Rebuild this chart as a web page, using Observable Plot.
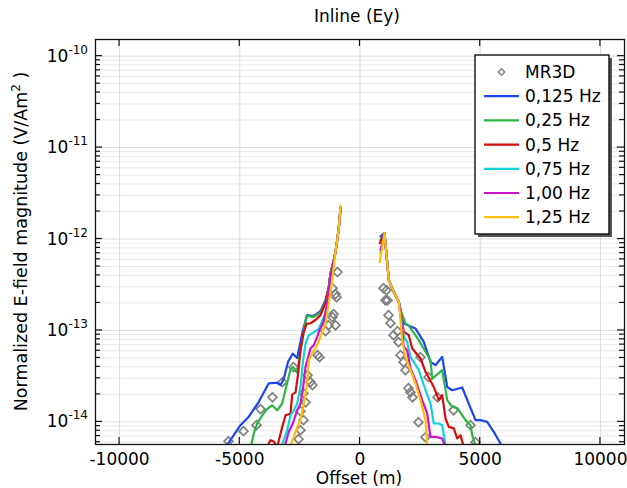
<!DOCTYPE html>
<html><head><meta charset="utf-8">
<script src="https://cdn.jsdelivr.net/npm/d3@7"></script>
<script src="https://cdn.jsdelivr.net/npm/@observablehq/plot@0.6"></script>
<style>body{margin:0;background:#fff}svg{font-family:"DejaVu Sans"}</style>
</head><body><div id="chart"></div>
<script>
// ---- data ----
const xTicks = [-10000, -5000, 0, 5000, 10000];
const yMajor = [1e-14, 1e-13, 1e-12, 1e-11, 1e-10];
const yTickExp = ["-14", "-13", "-12", "-11", "-10"];
const seriesNames = ["0,125 Hz", "0,25 Hz", "0,5 Hz", "0,75 Hz", "1,00 Hz", "1,25 Hz"];
const seriesColors = ["#1f45f0", "#2db543", "#d40d0d", "#13d2d6", "#c914c9", "#ffbe0a"];

const blueLeftX = [-5700, -5523, -4970, -4625, -4209, -3793, -3444, -3306, -3169, -2986, -2795, -2612, -2379, -2196, -1934, -1643, -1435, -1298, -1227, -1090, -1019, -948, -882, -811];
const blueLeftY = [4.9e-15, 5.6e-15, 9.2e-15, 1.14e-14, 1.66e-14, 2.64e-14, 2.68e-14, 2.52e-14, 2.98e-14, 4.59e-14, 5.56e-14, 4.99e-14, 1.0e-13, 1.47e-13, 1.44e-13, 1.63e-13, 2.14e-13, 2.97e-13, 4.23e-13, 5.87e-13, 7.18e-13, 9.72e-13, 1.3e-12, 2.0e-12];
const blueRightX = [853, 1019, 1198, 1406, 1614, 1684, 1822, 2308, 2653, 2932, 3140, 3419, 3627, 3835, 4250, 4804, 5012, 5290, 5565, 5843, 5968];
const blueRightY = [1.07e-12, 1.16e-12, 3.55e-13, 2.64e-13, 2.06e-13, 1.67e-13, 1.19e-13, 1.05e-13, 7.5e-14, 4.53e-14, 4.17e-14, 5.14e-14, 2.41e-14, 2.22e-14, 2.38e-14, 1.045e-14, 1.045e-14, 1.0e-14, 7.78e-15, 5.8e-15, 4.9e-15];

const greenLeftX = [-4560, -4417, -4276, -4067, -3859, -3652, -3444, -3236, -3069, -2890, -2795, -2612, -2475, -2337, -2225, -1921, -1643, -1435, -1298, -1227, -1090, -1019, -948, -882, -811];
const greenLeftY = [5.0e-15, 7.5e-15, 9.6e-15, 1.18e-14, 1.39e-14, 1.52e-14, 1.34e-14, 1.59e-14, 2.42e-14, 3.74e-14, 4.0e-14, 3.45e-14, 6.08e-14, 1.0e-13, 1.44e-13, 1.41e-13, 1.57e-13, 2.05e-13, 2.97e-13, 4.23e-13, 5.87e-13, 7.18e-13, 9.72e-13, 1.315e-12, 2.15e-12];
const greenRightX = [853, 1019, 1198, 1406, 1614, 1684, 1892, 2030, 2445, 2932, 3003, 3419, 3627, 3835, 4042, 4388, 4596, 4667, 4804, 4887];
const greenRightY = [9.72e-13, 1.16e-12, 3.55e-13, 2.64e-13, 2.06e-13, 1.67e-13, 1.19e-13, 1.13e-13, 7.84e-14, 4.73e-14, 2.98e-14, 3.68e-14, 1.73e-14, 1.46e-14, 1.42e-14, 1.045e-14, 9.21e-15, 7.16e-15, 5.56e-15, 4.9e-15];

const redLeftX = [-3900, -3722, -3585, -3444, -3236, -3098, -2890, -2820, -2683, -2570, -2475, -2350, -2225, -2059, -1851, -1643, -1435, -1298, -1227, -1090, -1019, -948, -882, -811];
const redLeftY = [5.2e-15, 6.31e-15, 6.1e-15, 5.3e-15, 8.8e-15, 1.18e-14, 1.23e-14, 2.0e-14, 2.09e-14, 3.39e-14, 6.08e-14, 9.34e-14, 1.18e-13, 1.2e-13, 1.3e-13, 1.47e-13, 1.99e-13, 2.97e-13, 4.23e-13, 5.87e-13, 7.18e-13, 9.72e-13, 1.315e-12, 2.2e-12];
const redRightX = [823, 1019, 1198, 1406, 1614, 1684, 1822, 2030, 2171, 2516, 2724, 3069, 3277, 3419, 3556, 3693, 3901, 4042, 4180, 4317];
const redRightY = [9.02e-13, 1.16e-12, 3.55e-13, 2.64e-13, 2.06e-13, 1.67e-13, 9.66e-14, 8.88e-14, 6.35e-14, 4.94e-14, 3.53e-14, 2.41e-14, 1.73e-14, 1.96e-14, 1.09e-14, 8.83e-15, 8.5e-15, 6.59e-15, 7.16e-15, 5.3e-15];

const cyanLeftX = [-3280, -3028, -2890, -2753, -2612, -2475, -2379, -2266, -2129, -1988, -1713, -1435, -1364, -1227, -1090, -1019, -948, -882, -811];
const cyanLeftY = [5.3e-15, 8.12e-15, 1.18e-14, 1.34e-14, 1.59e-14, 2.42e-14, 4.4e-14, 7.2e-14, 8.88e-14, 9.3e-14, 1.04e-13, 1.55e-13, 1.89e-13, 4.1e-13, 5.87e-13, 7.18e-13, 9.72e-13, 1.315e-12, 2.2e-12];
const cyanRightX = [853, 1019, 1198, 1406, 1614, 1684, 1822, 1963, 2100, 2445, 2724, 2932, 3069, 3277, 3419, 3556, 3600];
const cyanRightY = [7.0e-13, 1.16e-12, 3.55e-13, 2.64e-13, 2.06e-13, 1.6e-13, 8.51e-14, 7.5e-14, 5.14e-14, 3.68e-14, 2.22e-14, 1.59e-14, 9.6e-15, 9.6e-15, 9.21e-15, 5.56e-15, 4.9e-15];

const magentaLeftX = [-3140, -2961, -2795, -2612, -2475, -2379, -2266, -2059, -1921, -1780, -1713, -1505, -1364, -1227, -1090, -1019, -948, -882, -811];
const magentaLeftY = [5.3e-15, 7.8e-15, 9.6e-15, 1.34e-14, 1.59e-14, 2.22e-14, 4.0e-14, 6.37e-14, 6.9e-14, 8.5e-14, 9.6e-14, 1.26e-13, 1.98e-13, 3.9e-13, 5.87e-13, 7.18e-13, 9.72e-13, 1.315e-12, 2.25e-12];
const magentaRightX = [853, 1019, 1198, 1406, 1614, 1684, 1822, 1963, 2100, 2308, 2587, 2795, 2932, 3140, 3419, 3556];
const magentaRightY = [7.55e-13, 1.16e-12, 3.55e-13, 2.64e-13, 2.06e-13, 1.5e-13, 6.62e-14, 6.08e-14, 3.84e-14, 2.86e-14, 1.73e-14, 1.24e-14, 6.86e-15, 6.86e-15, 6.59e-15, 5.2e-15];

const yellowLeftX = [-2930, -2753, -2612, -2475, -2337, -2196, -2129, -1988, -1780, -1643, -1435, -1298, -1156, -1019, -948, -882, -811];
const yellowLeftY = [5.2e-15, 6.85e-15, 8.8e-15, 1.045e-14, 1.59e-14, 2.63e-14, 4.73e-14, 5.6e-14, 6.9e-14, 8.5e-14, 1.19e-13, 1.98e-13, 3.55e-13, 7.25e-13, 9.72e-13, 1.315e-12, 2.3e-12];
const yellowRightX = [823, 1019, 1198, 1406, 1614, 1684, 1755, 1892, 2100, 2308, 2516, 2724, 2795];
const yellowRightY = [5.59e-13, 1.16e-12, 3.55e-13, 2.64e-13, 2.06e-13, 1.30e-13, 7.84e-14, 5.14e-14, 3.68e-14, 2.63e-14, 1.73e-14, 1.045e-14, 5.2e-15];

const mr3dX = [-5469, -4845, -4305, -4138, -3639, -3223, -2766, -2558, -2475, -2350, -2475, -2266, -2350, -2183, -2059, -1976, -1768, -1684, -1435, -1310, -1144, -1019, -1102, -977, -1144, -936, -1019,
  977, 1102, 1060, 1144, 1185, 1268, 1393, 1560, 1601, 1684, 1809, 1892, 2017, 2100, 2183, 2433, 2516, 2724, 2849, 3223, 3889, 4596, 4804];
const mr3dY = [6.15e-15, 7.92e-15, 9.21e-15, 1.38e-14, 1.86e-14, 2.72e-14, 3.97e-14, 6.47e-15, 8.12e-15, 1.045e-14, 1.31e-14, 1.64e-14, 2.06e-14, 3.24e-14, 2.72e-14, 2.52e-14, 5.37e-14, 5.10e-14, 9.82e-14, 1.14e-13, 1.40e-13, 1.14e-13, 1.51e-13, 2.31e-13, 2.9e-13, 4.35e-13, 2.5e-13,
  2.90e-13, 2.76e-13, 2.14e-13, 2.14e-13, 1.47e-13, 1.20e-13, 8.88e-14, 9.82e-14, 7.45e-14, 5.37e-14, 4.5e-14, 3.68e-14, 2.34e-14, 2.11e-14, 1.86e-14, 9.93e-15, 5.10e-14, 6.81e-15, 3.08e-14, 1.86e-14, 1.34e-14, 9.21e-15, 6.0e-15];

// ---- build ----
const branches = [
  [blueLeftX, blueLeftY, blueRightX, blueRightY],
  [greenLeftX, greenLeftY, greenRightX, greenRightY],
  [redLeftX, redLeftY, redRightX, redRightY],
  [cyanLeftX, cyanLeftY, cyanRightX, cyanRightY],
  [magentaLeftX, magentaLeftY, magentaRightX, magentaRightY],
  [yellowLeftX, yellowLeftY, yellowRightX, yellowRightY]
];
const pts = (xs, ys) => xs.map((x, i) => ({offset: x, value: ys[i]}));
const W = 627, H = 488, mL = 95, mR = 3, mT = 39, mB = 44;
const xDomain = [-11000, 11000];
const yDomain = [5.66e-15, 1.52e-10];
const yMinor = [];
for (const d of [1e-15, 1e-14, 1e-13, 1e-12, 1e-11, 1e-10])
  for (let k = 2; k <= 9; k++) { const v = k * d; if (v > yDomain[0] && v < yDomain[1]) yMinor.push(v); }

const lineMarks = [];
branches.forEach(([lx, ly, rx, ry], i) => {
  for (const data of [pts(lx, ly), pts(rx, ry)])
    lineMarks.push(Plot.line(data, {x: "offset", y: "value", stroke: seriesColors[i], strokeWidth: 2.2, clip: true}));
});

const chart = Plot.plot({
  width: W, height: H,
  marginLeft: mL, marginRight: mR, marginTop: mT, marginBottom: mB,
  style: {fontFamily: "DejaVu Sans", fontSize: "17px", background: "white", color: "black"},
  x: {domain: xDomain, axis: null},
  y: {type: "log", domain: yDomain, axis: null},
  marks: [
    Plot.gridY(yMinor, {stroke: "#e9e9e9", strokeOpacity: 1}),
    Plot.gridY(yMajor, {stroke: "#dddddd", strokeOpacity: 1}),
    Plot.gridX(xTicks, {stroke: "#dddddd", strokeOpacity: 1}),
    Plot.dot(pts(mr3dX, mr3dY), {x: "offset", y: "value", symbol: "diamond2", r: 4, stroke: "#808080", strokeWidth: 1.7, fill: "none", clip: true}),
    ...lineMarks,
    Plot.frame({stroke: "#111", strokeWidth: 1.3}),
    Plot.axisX(xTicks, {tickSize: 0, tickPadding: 8, tickFormat: d => String(d), fontSize: 17, label: null})
  ]
});
document.getElementById("chart").append(chart);

const svg = d3.select(chart);
const sx = chart.scale("x"), sy = chart.scale("y");
const L = mL, R = W - mR, T = mT, B = H - mB;
const g = svg.append("g").attr("stroke", "#111").attr("stroke-width", 1.2);
for (const v of xTicks) {
  const x = sx.apply(v);
  g.append("line").attr("x1", x).attr("x2", x).attr("y1", B).attr("y2", B - 7);
  g.append("line").attr("x1", x).attr("x2", x).attr("y1", T).attr("y2", T + 7);
}
for (const v of yMajor) {
  const y = sy.apply(v);
  g.append("line").attr("x1", L).attr("x2", L + 7).attr("y1", y).attr("y2", y);
  g.append("line").attr("x1", R).attr("x2", R - 7).attr("y1", y).attr("y2", y);
}
for (const v of yMinor) {
  const y = sy.apply(v);
  g.append("line").attr("x1", L).attr("x2", L + 5).attr("y1", y).attr("y2", y);
  g.append("line").attr("x1", R).attr("x2", R - 5).attr("y1", y).attr("y2", y);
}
// y tick labels with superscripts
yMajor.forEach((v, i) => {
  const t = svg.append("text").attr("x", L - 7).attr("y", sy.apply(v) + 6)
    .attr("text-anchor", "end").attr("font-size", 17).attr("fill", "black");
  t.append("tspan").text("10");
  t.append("tspan").attr("dy", -8).attr("font-size", 12).text(yTickExp[i]);
});
// titles
svg.append("text").attr("x", 357).attr("y", 22).attr("text-anchor", "middle").attr("font-size", 17).text("Inline (Ey)");
svg.append("text").attr("x", 359).attr("y", 484).attr("text-anchor", "middle").attr("font-size", 17).text("Offset (m)");
const yt = svg.append("text").attr("transform", `translate(27,${(T + B) / 2}) rotate(-90)`).attr("text-anchor", "middle").attr("font-size", 17.5);
yt.append("tspan").text("Normalized E-field magnitude (V/Am");
yt.append("tspan").attr("dy", -7).attr("font-size", 12).text("2");
yt.append("tspan").attr("dy", 7).text(" )");
// legend
const lg = svg.append("g").attr("text-anchor", "start");
const bx = 475, by = 55, bw = 134, bh = 179;
lg.append("rect").attr("x", bx + 3).attr("y", by + 3).attr("width", bw).attr("height", bh).attr("fill", "#555");
lg.append("rect").attr("x", bx).attr("y", by).attr("width", bw).attr("height", bh).attr("fill", "white").attr("stroke", "#111").attr("stroke-width", 1.4);
const rowY = i => by + 17 + i * 24.2;
const dsym = d3.symbol(d3.symbolDiamond2, 26)();
lg.append("path").attr("d", dsym).attr("transform", `translate(501.5,${rowY(0)})`).attr("fill", "none").attr("stroke", "#808080").attr("stroke-width", 1.4);
lg.append("text").attr("x", 525).attr("y", rowY(0) + 6).attr("font-size", 17).attr("text-anchor", "start").text("MR3D");
seriesNames.forEach((n, i) => {
  const y = rowY(i + 1);
  lg.append("line").attr("x1", 484).attr("x2", 519).attr("y1", y).attr("y2", y).attr("stroke", seriesColors[i]).attr("stroke-width", 2.2);
  lg.append("text").attr("x", 525).attr("y", y + 6).attr("font-size", 17).attr("text-anchor", "start").text(n);
});
</script></body></html>
